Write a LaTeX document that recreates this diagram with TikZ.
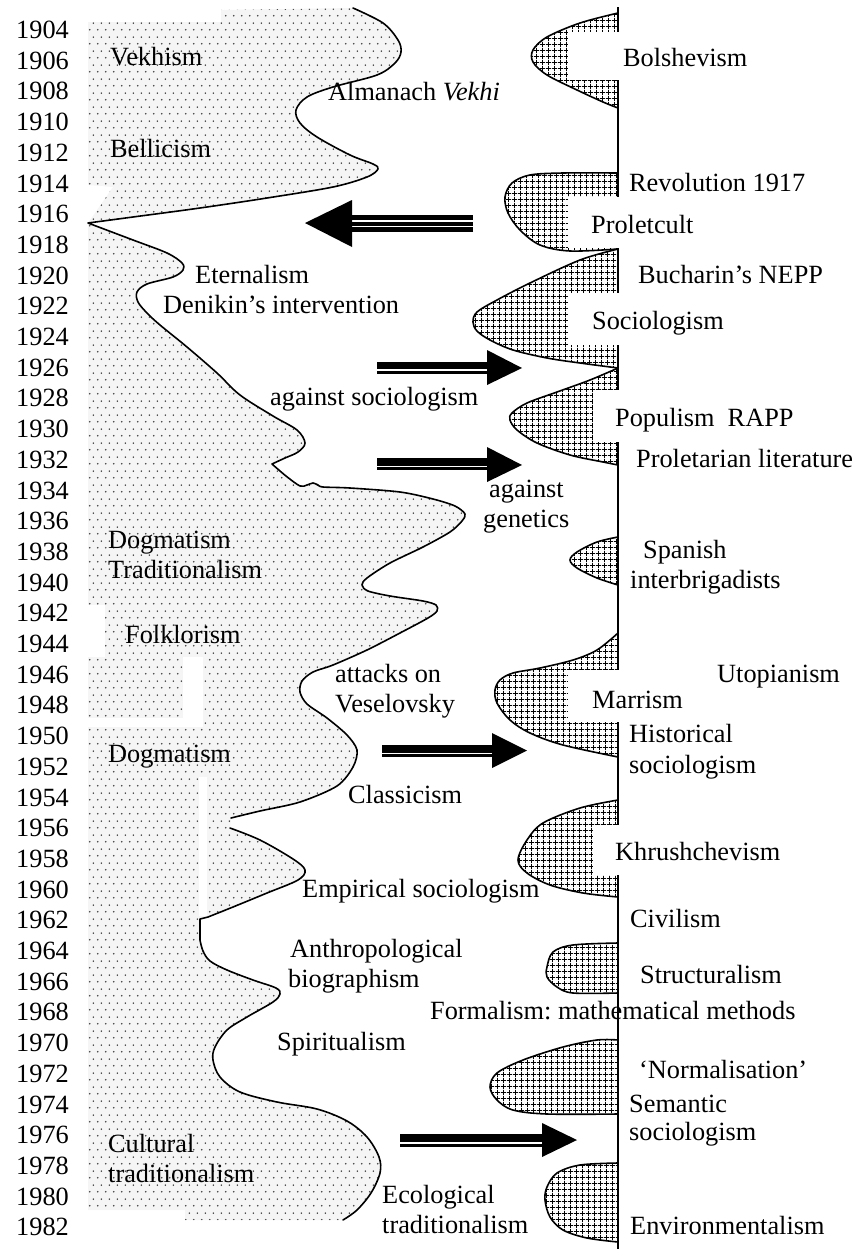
\documentclass[tikz,border=0pt]{standalone}
\usepackage{fontspec}
\setmainfont{Liberation Serif}
\usetikzlibrary{patterns}
\frenchspacing

% sparse stipple for the left band
\pgfdeclarepatternformonly{sparsedots}{\pgfpointorigin}{\pgfqpoint{8pt}{14pt}}{\pgfqpoint{8pt}{14pt}}{%
  \pgfpathcircle{\pgfqpoint{2pt}{3.5pt}}{0.95pt}%
  \pgfpathcircle{\pgfqpoint{6pt}{10.5pt}}{0.95pt}%
  \pgfusepath{fill}}
% square mesh for the waves on the right
\pgfdeclarepatternformonly{checkgrid}{\pgfpointorigin}{\pgfqpoint{5.5pt}{5.5pt}}{\pgfqpoint{5.5pt}{5.5pt}}{%
  \pgfsetlinewidth{0.9pt}%
  \pgfpathmoveto{\pgfqpoint{0pt}{2.75pt}}\pgfpathlineto{\pgfqpoint{5.5pt}{2.75pt}}%
  \pgfpathmoveto{\pgfqpoint{2.75pt}{0pt}}\pgfpathlineto{\pgfqpoint{2.75pt}{5.5pt}}%
  \pgfusepath{stroke}}

\tikzset{
  lab/.style={anchor=base west,inner sep=0pt,font=\fontsize{26.3}{30}\selectfont\frenchspacing},
  dotfill/.style={fill=gray!8,postaction={pattern=sparsedots,pattern color=black!75}},
  checkfill/.style={pattern=checkgrid,pattern color=black},
  outline/.style={line width=1.6pt,line join=round,line cap=round},
  axisline/.style={line width=1.5pt},
  cover/.style={fill=white},
  shaft/.style={line width=#1},
  sep/.style={white,line width=1.4pt},
  head/.style={fill=black},
  % left boundary, 1904-1916
  curveA/.style={insert path={-- plot[smooth,tension=0.55] coordinates{
    (353,8) (383,23) (398,40) (401,52) (395,63) (377,75) (333,87) (307,97)
    (296,110) (300,123) (317,137) (350,155) (373,164) (378,169) (367,177)
    (333,187) (267,198) (200,208) (133,217) (88,223)}}},
  % left boundary, 1916-1933
  curveB/.style={insert path={-- plot[smooth,tension=0.55] coordinates{
    (88,223) (133,240) (167,253) (182,263) (183,270) (173,277) (147,284)
    (137,292) (138,302) (147,313) (160,325) (187,347) (217,373) (240,395)
    (273,416) (297,430) (305,443) (298,452) (285,458) (272,464)}}},
  % left boundary, 1933-1956
  curveC/.style={insert path={-- plot[smooth,tension=0.5] coordinates{
    (272,464) (286,476) (300,486) (307,485) (313,483) (318,485) (323,487)
    (350,488) (400,492) (433,499) (455,506) (465,514) (462,521) (450,532)
    (423,547) (390,563) (367,578) (362,585) (368,591) (390,596) (423,601)
    (436,605) (437,611) (428,618) (400,633) (367,650) (333,665) (313,672)
    (302,681) (300,692) (307,704) (327,718) (347,735) (357,750) (353,767)
    (337,786) (300,802) (260,811) (231,818)}}},
  % left boundary, 1956-1962
  curveD/.style={insert path={-- plot[smooth,tension=0.55] coordinates{
    (230,828) (260,840) (293,859) (305,870) (298,880) (267,893) (233,907)
    (208,917)}}},
  % left boundary, 1962-1982
  curveE/.style={insert path={-- plot[smooth,tension=0.55] coordinates{
    (200,940) (203,951) (210,961) (227,970) (253,980) (276,988) (280,994)
    (273,1002) (247,1017) (227,1030) (215,1047) (213,1060) (220,1077)
    (240,1092) (277,1102) (317,1109) (347,1121) (367,1137) (379,1157)
    (380,1173) (371,1193) (357,1210) (343,1220)}}},
  bumpA/.style={insert path={-- plot[smooth,tension=0.55] coordinates{
    (618,13) (580,23) (547,37) (533,50) (533,62) (547,75) (577,90) (603,102) (618,108)}}},
  bumpB/.style={insert path={-- plot[smooth,tension=0.55] coordinates{
    (618,173) (563,173) (530,175) (512,183) (505,197) (508,213) (520,230)
    (540,245) (570,251) (618,249)}}},
  bumpC/.style={insert path={-- plot[smooth,tension=0.55] coordinates{
    (618,249) (580,260) (530,283) (497,300) (477,312) (473,322) (477,331)
    (490,340) (513,350) (547,358) (580,363) (618,368)}}},
  bumpD/.style={insert path={-- plot[smooth,tension=0.55] coordinates{
    (618,368) (590,380) (557,392) (527,403) (512,413) (510,420) (517,430)
    (537,443) (570,455) (603,462) (618,465)}}},
  bumpE/.style={insert path={-- plot[smooth,tension=0.55] coordinates{
    (618,537) (597,542) (577,552) (570,560) (577,568) (597,578) (618,585)}}},
  bumpF/.style={insert path={-- plot[smooth,tension=0.55] coordinates{
    (618,633) (597,650) (573,660) (540,668) (513,673) (500,680) (495,690)
    (497,703) (510,720) (530,733) (563,745) (618,757)}}},
  bumpG/.style={insert path={-- plot[smooth,tension=0.55] coordinates{
    (618,800) (580,808) (543,823) (527,840) (518,860) (527,873) (550,885)
    (583,893) (618,897)}}},
  bumpH/.style={insert path={-- plot[smooth,tension=0.55] coordinates{
    (618,943) (573,945) (553,952) (547,967) (547,977) (557,987) (573,993) (618,993)}}},
  bumpI/.style={insert path={-- plot[smooth,tension=0.55] coordinates{
    (618,1040) (597,1040) (563,1047) (523,1060) (497,1073) (490,1087)
    (497,1100) (513,1110) (547,1114) (618,1114)}}},
  bumpJ/.style={insert path={-- plot[smooth,tension=0.55] coordinates{
    (618,1163) (580,1165) (557,1173) (547,1187) (545,1200) (550,1217)
    (563,1230) (587,1238) (618,1242)}}},
}

\begin{document}
\begin{tikzpicture}[x=1pt,y=-1pt]
\useasboundingbox (0,0) rectangle (859,1251);

% ---- stippled band on the left ----
\path[dotfill] (88,22) -- (221,22) -- (221,10) -- (353,8) [curveA]
  -- (113,187) -- (88,185) -- cycle;
\path[dotfill] (88,223) [curveB] [curveC] -- (230,828) [curveD]
  -- (200,919) -- (200,940) [curveE] -- (185,1220) -- (185,1210)
  -- (88,1210) -- cycle;
% gaps between the shaded boxes
\fill[cover] (88,605) rectangle (105,657);
\fill[cover] (183,657) rectangle (203,727);
\fill[cover] (88,718) rectangle (203,727);
\fill[cover] (199,777) rectangle (207,916);

% boundary line of the band
\draw[outline] (353,8) [curveA] [curveB] [curveC];
\draw[outline] (230,828) [curveD] -- (200,919) -- (200,940) [curveE];

% ---- waves on the right ----
\foreach \b/\s in {bumpA/{618,13},bumpB/{618,173},bumpC/{618,249},bumpD/{618,368},
                   bumpE/{618,537},bumpF/{618,633},bumpG/{618,800},bumpH/{618,943},
                   bumpI/{618,1040},bumpJ/{618,1163}}{
  \path[checkfill] (\s) [\b] -- cycle;
  \draw[outline] (\s) [\b];
}
\coordinate (axtop) at (618,7);
\coordinate (axbot) at (618,1249);
\draw[axisline] (axtop) -- (axbot);

% white boxes behind the labels
\fill[cover] (568,32) rectangle (760,80);
\fill[cover] (568,197) rectangle (720,248);
\fill[cover] (568,293) rectangle (720,345);
\fill[cover] (593,390) rectangle (800,442);
\fill[cover] (568,670) rectangle (700,722);
\fill[cover] (593,825) rectangle (790,875);

% ---- arrows ----
% 1917: towards the left band
\coordinate (a1tail) at (473,223); \coordinate (a1base) at (352,223); \coordinate (a1tip) at (305,223);
\draw[shaft=17pt] (a1tail) -- (a1base);
\draw[sep] (473,220.8) -- (352,220.8);
\draw[sep] (473,226.4) -- (352,226.4);
\fill[head] (352,200) -- (a1tip) -- (352,247) -- cycle;
% 1926
\coordinate (a2tail) at (377,367.75); \coordinate (a2base) at (487,367.75); \coordinate (a2tip) at (522,368);
\draw[shaft=12.5pt] (a2tail) -- (a2base);
\draw[sep] (377,370) -- (487,370);
\fill[head] (487,350) -- (a2tip) -- (487,385) -- cycle;
% 1932
\coordinate (a3tail) at (377,464); \coordinate (a3base) at (487,464); \coordinate (a3tip) at (522,465);
\draw[shaft=12.5pt] (a3tail) -- (a3base);
\draw[sep] (377,466.5) -- (487,466.5);
\fill[head] (487,447) -- (a3tip) -- (487,482) -- cycle;
% 1951
\coordinate (a4tail) at (382,750.75); \coordinate (a4base) at (492,750.75); \coordinate (a4tip) at (527,750.5);
\draw[shaft=12.5pt] (a4tail) -- (a4base);
\draw[sep] (382,753.2) -- (492,753.2);
\fill[head] (492,733) -- (a4tip) -- (492,768) -- cycle;
% 1976
\coordinate (a5tail) at (400,1140.5); \coordinate (a5base) at (542,1140.5); \coordinate (a5tip) at (577,1140);
\draw[shaft=12.5pt] (a5tail) -- (a5base);
\draw[sep] (400,1142.8) -- (542,1142.8);
\fill[head] (542,1123) -- (a5tip) -- (542,1157) -- cycle;

% ---- years ----
\foreach \yr in {1904,1906,...,1982}{
  \node[lab] (y\yr) at (16,{38.5+15.35*(\yr-1904)}) {\yr};
}

% ---- labels, left ----
\node[lab] (vekhism)  at (110,65)  {Vekhism};
\node[lab] (bellic)   at (110,157) {Bellicism};
\node[lab] (almanach) at (328,100) {Almanach \textit{Vekhi}};
\node[lab] (etern)    at (195,283) {Eternalism};
\node[lab] (denikin)  at (163,313) {Denikin’s intervention};
\node[lab] (agsoc)    at (270,405) {against sociologism};
\node[lab] (against)  at (489,497) {against};
\node[lab] (genet)    at (483,527) {genetics};
\node[lab] (dogma)    at (108,548) {Dogmatism};
\node[lab] (tradit)   at (108,578) {Traditionalism};
\node[lab] (folk)     at (125,643) {Folklorism};
\node[lab] (attacks)  at (335,682) {attacks on};
\node[lab] (vesel)    at (335,712) {Veselovsky};
\node[lab] (dogmb)    at (108,762) {Dogmatism};
\node[lab] (classic)  at (348,803) {Classicism};
\node[lab] (empir)    at (302,897) {Empirical sociologism};
\node[lab] (anthro)   at (290,957) {Anthropological};
\node[lab] (biogr)    at (288,987) {biographism};
\node[lab] (spirit)   at (277,1050) {Spiritualism};
\node[lab] (cult)     at (108,1152) {Cultural};
\node[lab] (culttrad) at (108,1182) {traditionalism};
\node[lab] (ecol)     at (382,1203) {Ecological};
\node[lab] (ecoltrad) at (382,1233) {traditionalism};

% ---- labels, right ----
\node[lab] (bolsh)    at (623,66)  {Bolshevism};
\node[lab] (revol)    at (629,191) {Revolution 1917};
\node[lab] (prolet)   at (591,233) {Proletcult};
\node[lab] (nepp)     at (638,283) {Bucharin’s NEPP};
\node[lab] (sociol)   at (592,329) {Sociologism};
\node[lab] (rapp)     at (615,426) {Populism\ \ RAPP};
\node[lab] (prolit)   at (636,467) {Proletarian literature};
\node[lab] (spanish)  at (643,558) {Spanish};
\node[lab] (brig)     at (630,588) {interbrigadists};
\node[lab] (utop)     at (717,682) {Utopianism};
\node[lab] (marr)     at (592,708) {Marrism};
\node[lab] (hist)     at (629,742) {Historical};
\node[lab] (histsoc)  at (629,773) {sociologism};
\node[lab] (khrush)   at (615,860) {Khrushchevism};
\node[lab] (civil)    at (630,927) {Civilism};
\node[lab] (struct)   at (640,983) {Structuralism};
\node[lab] (formal)   at (430,1019) {Formalism: mathematical methods};
\node[lab] (normal)   at (639,1078) {‘Normalisation’};
\node[lab] (seman)    at (629,1112) {Semantic};
\node[lab] (semsoc)   at (629,1140) {sociologism};
\node[lab] (environ)  at (630,1234) {Environmentalism};
\end{tikzpicture}
\end{document}
